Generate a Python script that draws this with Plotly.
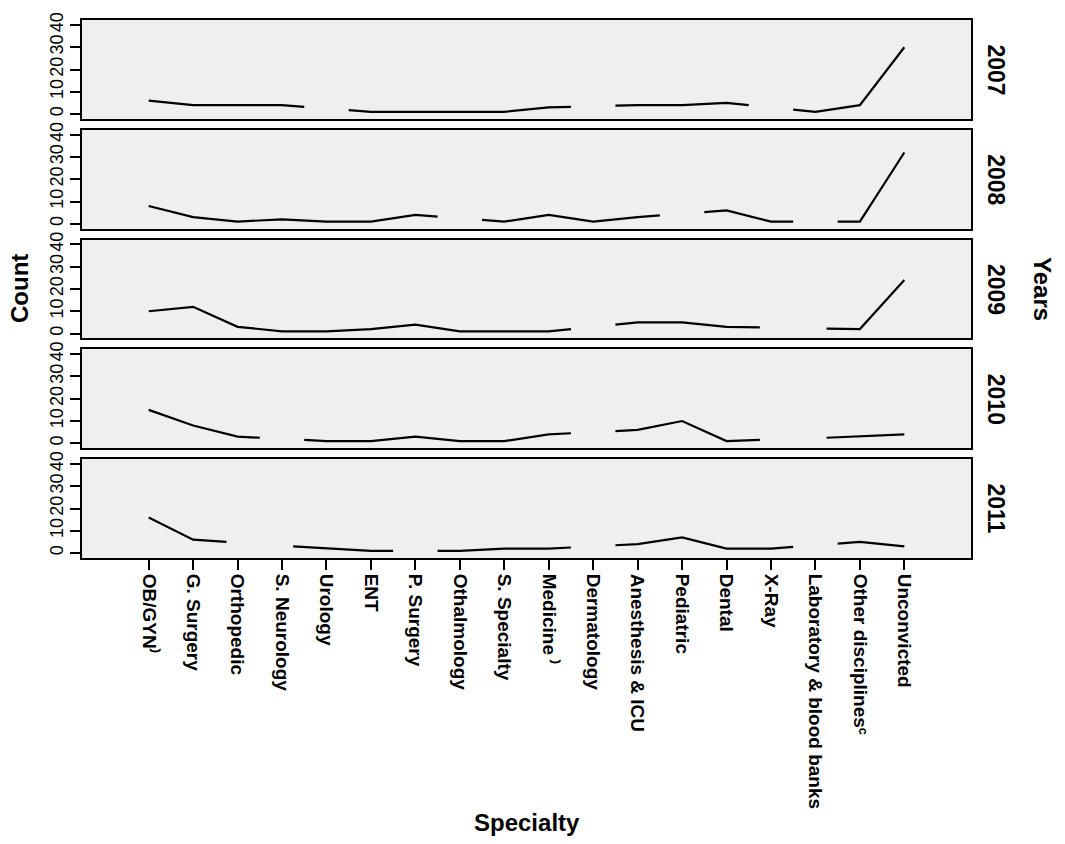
import plotly.graph_objects as go
from plotly.subplots import make_subplots

# ---------------- data ----------------
specialties = ["OB/GYN\u207e", "G. Surgery", "Orthopedic", "S. Neurology", "Urology", "ENT",
               "P. Surgery", "Othalmology", "S. Specialty", "Medicine \u207e", "Dermatology",
               "Anesthesis & ICU", "Pediatric", "Dental", "X-Ray", "Laboratory & blood banks",
               "Other disciplines\u1d9c", "Unconvicted"]
years = ["2007", "2008", "2009", "2010", "2011"]

count_2007 = [6, 4, 4, 4, None, 1, 1, 1, 1, 3, None, 4, 4, 5, None, 1, 4, 30]
count_2008 = [8, 3, 1, 2, 1, 1, 4, None, 1, 4, 1, 3, None, 6, 1, None, 1, 32]
count_2009 = [10, 12, 3, 1, 1, 2, 4, 1, 1, 1, None, 5, 5, 3, None, None, 2, 24]
count_2010 = [15, 8, 3, None, 1, 1, 3, 1, 1, 4, None, 6, 10, 1, None, None, 3, 4]
count_2011 = [16, 6, None, None, 2, 1, None, 1, 2, 2, None, 4, 7, 2, 2, None, 5, 3]
series = [count_2007, count_2008, count_2009, count_2010, count_2011]

y_ticks = [0, 10, 20, 30, 40]

# ---------------- layout constants ----------------
W, H = 1065, 844
ML, MR, MT, MB = 82, 94, 12, 286
PW, PH = W - ML - MR, H - MT - MB
FONT = "Liberation Sans, Arial, Helvetica, sans-serif"


def px_x(px):
    return (px - ML) / PW


def px_y(py):
    return (H - MB - py) / PH


def build_line(vals):
    """Straight line through the points; across missing values the middle half
    of the span is left blank (as in the source rendering)."""
    valid = [i for i, v in enumerate(vals) if v is not None]
    xs, ys = [valid[0]], [vals[valid[0]]]
    for a, b in zip(valid[:-1], valid[1:]):
        va, vb = vals[a], vals[b]
        if b - a == 1:
            xs.append(b)
            ys.append(vb)
        else:
            f = 0.25
            xs += [a + f * (b - a), None, b - f * (b - a), b]
            ys += [va + f * (vb - va), None, vb - f * (vb - va), vb]
    return xs, ys


fig = make_subplots(rows=5, cols=1, shared_xaxes=True, vertical_spacing=0.02)

idx = list(range(len(specialties)))
for r, vals in enumerate(series, start=1):
    xs, ys = build_line(vals)
    fig.add_trace(go.Scatter(x=xs, y=ys, mode="lines", connectgaps=False,
                             line=dict(color="black", width=2.2),
                             showlegend=False, hoverinfo="skip"), row=r, col=1)
    fig.update_yaxes(row=r, col=1, range=[-2.22, 42.22], tickvals=y_ticks,
                     ticktext=[str(t) for t in y_ticks], tickangle=-90,
                     ticks="outside", ticklen=10, tickwidth=1.6, tickcolor="black",
                     showline=True, linecolor="black", linewidth=1.8, mirror=True,
                     showgrid=False, zeroline=False,
                     tickfont=dict(family=FONT, size=18, color="black"))
    fig.update_xaxes(row=r, col=1, range=[-1.5, len(specialties) + 0.5],
                     tickvals=idx, ticktext=specialties,
                     showline=True, linecolor="black", linewidth=1.8, mirror=True,
                     showgrid=False, zeroline=False,
                     ticks="outside" if r == 5 else "", ticklen=10, tickwidth=1.6,
                     tickcolor="black", tickangle=90, showticklabels=(r == 5),
                     tickfont=dict(family=FONT, size=19, color="black", weight="bold"))

annotations = []
for r, yr in enumerate(years, start=1):
    yname = "yaxis" if r == 1 else f"yaxis{r}"
    dom = fig.layout[yname].domain
    annotations.append(dict(text=yr, xref="paper", yref="paper", x=px_x(996),
                            y=(dom[0] + dom[1]) / 2, showarrow=False, textangle=90,
                            xanchor="center", yanchor="middle",
                            font=dict(family=FONT, size=23, color="black", weight="bold")))

annotations += [
    dict(text="Years", xref="paper", yref="paper", x=px_x(1043), y=px_y(285),
         showarrow=False, textangle=90, xanchor="center", yanchor="middle",
         font=dict(family=FONT, size=24, color="black", weight="bold")),
    dict(text="Count", xref="paper", yref="paper", x=px_x(19), y=px_y(285),
         showarrow=False, textangle=-90, xanchor="center", yanchor="middle",
         font=dict(family=FONT, size=24, color="black", weight="bold")),
    dict(text="Specialty", xref="paper", yref="paper", x=px_x(527), y=px_y(826),
         showarrow=False, xanchor="center", yanchor="middle",
         font=dict(family=FONT, size=24, color="black", weight="bold")),
]

fig.update_layout(width=W, height=H, margin=dict(l=ML, r=MR, t=MT, b=MB, pad=0),
                  paper_bgcolor="white", plot_bgcolor="#EFEFEF",
                  font=dict(family=FONT, color="black"),
                  annotations=annotations, showlegend=False)

fig.write_html("out.html")
